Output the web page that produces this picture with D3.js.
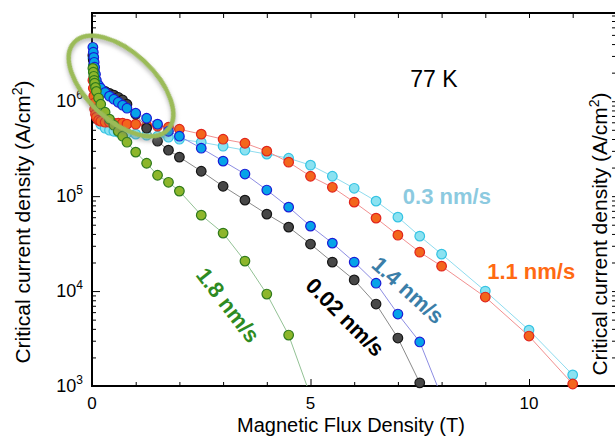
<!DOCTYPE html>
<html>
<head>
<meta charset="utf-8">
<script src="https://cdn.jsdelivr.net/npm/d3@7"></script>
<style>
  html, body { margin: 0; padding: 0; background: #fff; }
  svg { display: block; font-family: "Liberation Sans", Arial, sans-serif; }
</style>
</head>
<body>
<script>
// magnetic field (T) at which Jc was measured
const fieldLow = [0.02, 0.03, 0.04, 0.05, 0.06, 0.08, 0.1, 0.15, 0.2, 0.3, 0.4, 0.5, 0.6, 0.7, 0.8, 1.0, 1.25, 1.5, 1.75, 2.0];
const fieldHigh = [2.5, 3, 3.5, 4, 4.5, 5, 5.5, 6, 6.5, 7, 7.5, 8, 9, 10, 11];
const fieldT = fieldLow.concat(fieldHigh);

// critical current density (A/cm2), one array per deposition rate, same order as fieldT
const jc03 = [2.84e6, 2.39e6, 2.02e6, 1.66e6, 1.37e6, 1.08e6, 8.44e5, 6.62e5, 5.73e5, 5.20e5,
  4.95e5, 4.83e5, 4.72e5, 4.60e5, 4.60e5, 4.50e5, 4.39e5, 4.28e5, 4.18e5, 3.98e5,
  3.70e5, 3.36e5, 3.05e5, 2.77e5, 2.51e5, 2.12e5, 1.62e5, 1.21e5, 8.86e4, 6.01e4,
  3.79e4, 2.45e4, 1.0e4, 3.88e3, 1.31e3];
const jc11 = [1.66e6, 1.37e6, 1.13e6, 9.53e5, 8.24e5, 7.30e5, 6.79e5, 6.31e5, 6.16e5, 6.01e5,
  6.01e5, 5.87e5, 5.87e5, 5.87e5, 5.73e5, 5.73e5, 5.59e5, 5.46e5, 5.32e5, 5.07e5,
  4.50e5, 3.98e5, 3.61e5, 2.98e5, 2.28e5, 1.62e5, 1.24e5, 8.65e4, 5.87e4, 3.88e4,
  2.57e4, 1.83e4, 8.65e3, 3.36e3, 1.05e3];
const jc14 = [3.70e6, 3.28e6, 2.90e6, 2.57e6, 2.28e6, 1.92e6, 1.66e6, 1.47e6, 1.37e6, 1.24e6,
  1.13e6, 1.05e6, 9.76e5, 9.08e5, 8.44e5, 7.48e5, 6.62e5, 5.73e5, 4.83e5, 4.28e5,
  3.20e5, 2.34e5, 1.71e5, 1.16e5, 7.66e4, 4.83e4, 3.20e4, 2.02e4, 1.21e4, 5.73e3,
  2.91e3, 7.7e2];
const jc002 = [3.05e6, 2.70e6, 2.39e6, 2.12e6, 1.92e6, 1.66e6, 1.51e6, 1.40e6, 1.34e6, 1.27e6,
  1.21e6, 1.16e6, 1.10e6, 1.03e6, 9.30e5, 7.30e5, 5.20e5, 3.79e5, 3.05e5, 2.58e5,
  1.83e5, 1.27e5, 9.08e4, 6.47e4, 4.72e4, 3.13e4, 2.02e4, 1.31e4, 7.30e3, 3.20e3,
  1.08e3];
const jc18 = [2.22e6, 2.02e6, 1.83e6, 1.66e6, 1.55e6, 1.40e6, 1.27e6, 1.08e6, 9.30e5, 7.66e5,
  6.47e5, 5.59e5, 4.83e5, 4.28e5, 3.70e5, 2.91e5, 2.22e5, 1.66e5, 1.40e5, 1.13e5,
  6.31e4, 4.08e4, 2.07e4, 9.30e3, 3.44e3, 7.9e2];

const rateLabels = ['0.3 nm/s', '1.1 nm/s', '0.02 nm/s', '1.4 nm/s', '1.8 nm/s'];
const yTickExps = [3, 4, 5, 6];
const xTickLabels = [0, 5, 10];

window.addEventListener('load', function() {
  const width = 615, height = 436;
  const plot = {left: 92, top: 13, right: 615, bottom: 386};

  const x = d3.scaleLinear().domain([0, 12]).range([plot.left, plot.left + 12 * 43.7]);
  const y = d3.scaleLog().domain([1e3, 8.5e6]).range([plot.bottom, plot.top]);

  // drawing styles, in the order the series are painted
  const styles = [
    {values: jc03, fill: '#8be2f1', stroke: '#35c3e3', line: '#8fdcef', text: '#8ccae0', lx: 8.12, ly: 1.0e5, rot: 0},
    {values: jc11, fill: '#f3661c', stroke: '#e1241c', line: '#f29090', text: '#ff6a12', lx: 10.05, ly: 1.62e4, rot: 0},
    {values: jc002, fill: '#474747', stroke: '#151515', line: '#8a8a8a', text: '#000000', lx: 5.79, ly: 5.3e3, rot: 45},
    {values: jc14, fill: '#06a3e8', stroke: '#1b1bd6', line: '#8d8de3', text: '#3b7ea8', lx: 7.23, ly: 1.02e4, rot: 42},
    {values: jc18, fill: '#8db62b', stroke: '#2f7a1c', line: '#93c295', text: '#2e8b22', lx: 3.11, ly: 7.1e3, rot: 52}
  ];
  const series = styles.map(function(s, i) {
    return Object.assign({name: rateLabels[i], points: s.values.map(function(v, j) {
      return {b: fieldT[j], jc: v};
    })}, s);
  });

  const svg = d3.select('body').append('svg')
    .attr('width', width)
    .attr('height', height);

  const defs = svg.append('defs');
  defs.append('clipPath').attr('id', 'plot-clip')
    .append('rect')
    .attr('x', plot.left).attr('y', plot.top)
    .attr('width', plot.right - plot.left).attr('height', plot.bottom - plot.top);
  defs.append('filter').attr('id', 'soft-shadow')
    .attr('x', '-30%').attr('y', '-30%').attr('width', '160%').attr('height', '160%')
    .append('feDropShadow')
    .attr('dx', 2).attr('dy', 2).attr('stdDeviation', 2.2)
    .attr('flood-color', '#7a7a7a').attr('flood-opacity', 0.55);

  // ticks (all pointing inward)
  const minorY = d3.range(3, 7).flatMap(function(e) {
    return d3.range(2, 10).map(function(m) { return m * Math.pow(10, e); });
  }).filter(function(v) { return v < y.domain()[1]; });
  const majorY = yTickExps.map(function(e) { return Math.pow(10, e); });

  function tickAxis(axis, values, size, transform) {
    const g = svg.append('g')
      .attr('transform', transform)
      .call(axis.tickValues(values).tickSize(size).tickFormat(''));
    g.select('.domain').remove();
    g.selectAll('line').attr('stroke', '#000').attr('stroke-width', 1);
    return g;
  }

  tickAxis(d3.axisLeft(y), minorY, -4, 'translate(' + plot.left + ',0)');
  tickAxis(d3.axisLeft(y), majorY, -8, 'translate(' + plot.left + ',0)');
  // remains of the next panel's axis at the right edge
  tickAxis(d3.axisLeft(y), minorY.concat(majorY), 4, 'translate(' + (plot.right + 1) + ',0)');

  const minorX = d3.range(1, 12).filter(function(v) { return v % 5 !== 0; });
  tickAxis(d3.axisBottom(x), minorX, -4, 'translate(0,' + plot.bottom + ')');
  tickAxis(d3.axisBottom(x), [5, 10], -7, 'translate(0,' + plot.bottom + ')');
  tickAxis(d3.axisTop(x), d3.range(1, 12), -5, 'translate(0,' + plot.top + ')');

  // frame
  svg.append('path')
    .attr('d', ['M', plot.right, plot.top, 'L', plot.left, plot.top, plot.left, plot.bottom, plot.right, plot.bottom].join(' '))
    .attr('fill', 'none')
    .attr('stroke', '#000')
    .attr('stroke-width', 2);

  // tick labels
  const yLabels = svg.append('g')
    .attr('font-size', 18)
    .attr('text-anchor', 'end')
    .selectAll('text')
    .data(yTickExps)
    .join('text')
    .attr('x', 83)
    .attr('y', function(e) { return y(Math.pow(10, e)) + 6; });
  yLabels.append('tspan').text('10');
  yLabels.append('tspan')
    .attr('font-size', 12)
    .attr('dy', -8)
    .text(function(e) { return e; });

  svg.append('g')
    .attr('font-size', 17)
    .attr('text-anchor', 'middle')
    .selectAll('text')
    .data(xTickLabels)
    .join('text')
    .attr('x', function(d) { return x(d); })
    .attr('y', 409)
    .text(function(d) { return d; });

  // axis titles
  svg.append('text')
    .attr('x', 351)
    .attr('y', 432)
    .attr('font-size', 20)
    .attr('text-anchor', 'middle')
    .text('Magnetic Flux Density (T)');

  function yTitle(px, py) {
    const t = svg.append('text')
      .attr('transform', 'translate(' + px + ',' + py + ') rotate(-90)')
      .attr('font-size', 21)
      .attr('text-anchor', 'middle');
    t.append('tspan').text('Critical current density (A/cm');
    t.append('tspan').attr('font-size', 14).attr('dy', -8).text('2');
    t.append('tspan').attr('dy', 8).text(')');
  }
  yTitle(30, 222);
  yTitle(607, 234);

  svg.append('text')
    .attr('x', 434)
    .attr('y', 87)
    .attr('font-size', 23)
    .attr('text-anchor', 'middle')
    .text('77 K');

  // data
  const line = d3.line()
    .x(function(d) { return x(d.b); })
    .y(function(d) { return y(d.jc); });

  const layers = svg.append('g');
  series.forEach(function(s) {
    const g = layers.append('g');
    g.append('path')
      .datum(s.points)
      .attr('clip-path', 'url(#plot-clip)')
      .attr('d', line)
      .attr('fill', 'none')
      .attr('stroke', s.line)
      .attr('stroke-width', 1);
    g.selectAll('circle')
      .data(s.points.filter(function(d) { return d.jc >= y.domain()[0]; }))
      .join('circle')
      .attr('cx', function(d) { return x(d.b); })
      .attr('cy', function(d) { return y(d.jc); })
      .attr('r', 4.8)
      .attr('fill', s.fill)
      .attr('stroke', s.stroke)
      .attr('stroke-width', 1.2);
  });

  // series labels
  svg.append('g')
    .attr('font-size', 22)
    .attr('font-weight', 'bold')
    .attr('text-anchor', 'middle')
    .attr('dominant-baseline', 'central')
    .selectAll('text')
    .data(series)
    .join('text')
    .attr('transform', function(s) {
      return 'translate(' + x(s.lx) + ',' + y(s.ly) + ') rotate(' + s.rot + ')';
    })
    .attr('fill', function(s) { return s.text; })
    .text(function(s) { return s.name; });

  // highlight around the low-field peak
  svg.append('ellipse')
    .attr('transform', 'translate(121,86) rotate(43)')
    .attr('rx', 64)
    .attr('ry', 34)
    .attr('fill', 'none')
    .attr('stroke', '#9bbb59')
    .attr('stroke-width', 4.5)
    .attr('filter', 'url(#soft-shadow)');
});
</script>
</body>
</html>
